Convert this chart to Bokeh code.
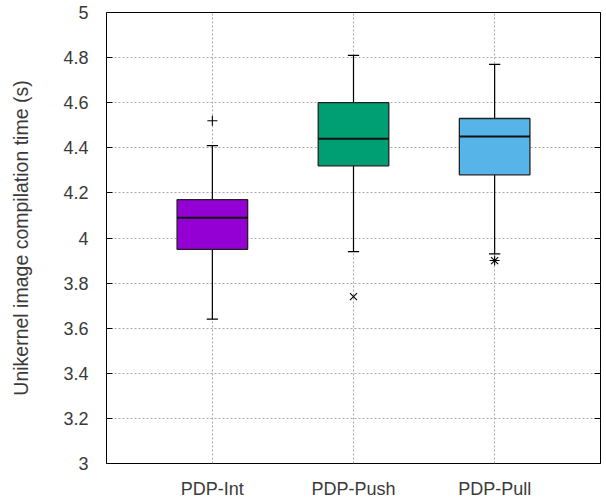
from bokeh.plotting import figure
from bokeh.models import ColumnDataSource, FixedTicker, LinearAxis, CustomJSTickFormatter, Range1d
from bokeh.embed import file_html
from bokeh.resources import INLINE

# ---- data ----
categories = ["PDP-Int", "PDP-Push", "PDP-Pull"]
q1 = [3.95, 4.32, 4.28]
median = [4.09, 4.44, 4.45]
q3 = [4.17, 4.60, 4.53]
whisker_low = [3.64, 3.94, 3.93]
whisker_high = [4.41, 4.81, 4.77]
outlier_category = ["PDP-Int", "PDP-Push", "PDP-Pull"]
outlier_value = [4.52, 3.74, 3.90]
y_ticks = [3.0, 3.2, 3.4, 3.6, 3.8, 4.0, 4.2, 4.4, 4.6, 4.8, 5.0]

# ---- styles ----
colors = ["#9400D3", "#009E73", "#56B4E9"]
outlier_markers = ["cross", "x", "asterisk"]
FONT = "Liberation Sans"
TEXT_COLOR = "#3a3a3a"
BOX_HALF = 0.25
CAP_HALF = 0.04

pos = [i + 1 for i in range(len(categories))]
cat_pos = {c: p for c, p in zip(categories, pos)}

p = figure(frame_width=494, frame_height=451, output_backend="svg", toolbar_location=None,
           x_range=Range1d(0.25, 3.75), y_range=Range1d(3, 5),
           min_border_left=106, min_border_top=12, min_border_right=5, min_border_bottom=35)

p.outline_line_color = "black"
p.outline_line_width = 1
p.background_fill_color = "white"
p.border_fill_color = "white"

# grid
for g in (p.xgrid, p.ygrid):
    g.grid_line_color = "#a8a8a8"
    g.grid_line_dash = "2 2"
    g.grid_line_width = 1
p.xgrid.ticker = FixedTicker(ticks=pos)
p.ygrid.ticker = FixedTicker(ticks=y_ticks)

# x axis
xa = p.xaxis[0]
xa.ticker = FixedTicker(ticks=pos)
xa.major_label_overrides = {pp: c for pp, c in zip(pos, categories)}
xa.major_tick_in = 0
xa.major_tick_out = 0
xa.minor_tick_line_color = None
xa.axis_line_color = None
xa.major_label_standoff = 15
xa.major_label_text_font = FONT
xa.major_label_text_font_size = "18px"
xa.major_label_text_color = TEXT_COLOR

# y axis
fmt = CustomJSTickFormatter(code="return String(Math.round(tick*10)/10);")
ya = p.yaxis[0]
ya.ticker = FixedTicker(ticks=y_ticks)
ya.formatter = fmt
ya.major_tick_in = 6
ya.major_tick_out = 0
ya.major_tick_line_color = "black"
ya.minor_tick_line_color = None
ya.axis_line_color = None
ya.major_label_standoff = 18
ya.major_label_text_font = FONT
ya.major_label_text_font_size = "18px"
ya.major_label_text_color = TEXT_COLOR
ya.axis_label = "Unikernel image compilation time (s)"
ya.axis_label_text_font = FONT
ya.axis_label_text_font_size = "19.5px"
ya.axis_label_text_font_style = "normal"
ya.axis_label_text_color = TEXT_COLOR
ya.axis_label_standoff = 28

# mirrored ticks on the right
ra = LinearAxis(ticker=FixedTicker(ticks=y_ticks),
                formatter=CustomJSTickFormatter(code="return '';"))
ra.major_tick_in = 6
ra.major_tick_out = 0
ra.major_tick_line_color = "black"
ra.minor_tick_line_color = None
ra.axis_line_color = None
ra.major_label_standoff = 0
p.add_layout(ra, "right")

# whiskers (stem + caps)
src = ColumnDataSource(dict(
    x=pos,
    left=[x - BOX_HALF for x in pos],
    right=[x + BOX_HALF for x in pos],
    cap_l=[x - CAP_HALF for x in pos],
    cap_r=[x + CAP_HALF for x in pos],
    q1=q1, q3=q3, med=median, lo=whisker_low, hi=whisker_high, color=colors,
))
p.segment(x0="x", y0="lo", x1="x", y1="hi", source=src, line_color="black", line_width=1.2)
p.segment(x0="cap_l", y0="lo", x1="cap_r", y1="lo", source=src, line_color="black", line_width=1.2)
p.segment(x0="cap_l", y0="hi", x1="cap_r", y1="hi", source=src, line_color="black", line_width=1.2)

# boxes
p.quad(left="left", right="right", bottom="q1", top="q3", source=src,
       fill_color="color", line_color="#222222", line_width=1.3)
p.segment(x0="left", y0="med", x1="right", y1="med", source=src, line_color="#111111", line_width=2)

# outliers
osrc = ColumnDataSource(dict(
    x=[cat_pos[c] for c in outlier_category],
    y=outlier_value,
    marker=outlier_markers,
))
p.scatter(x="x", y="y", marker="marker", source=osrc, size=10,
          line_color="black", fill_color="black", line_width=1.1)

open("out.html", "w").write(file_html(p, INLINE))
